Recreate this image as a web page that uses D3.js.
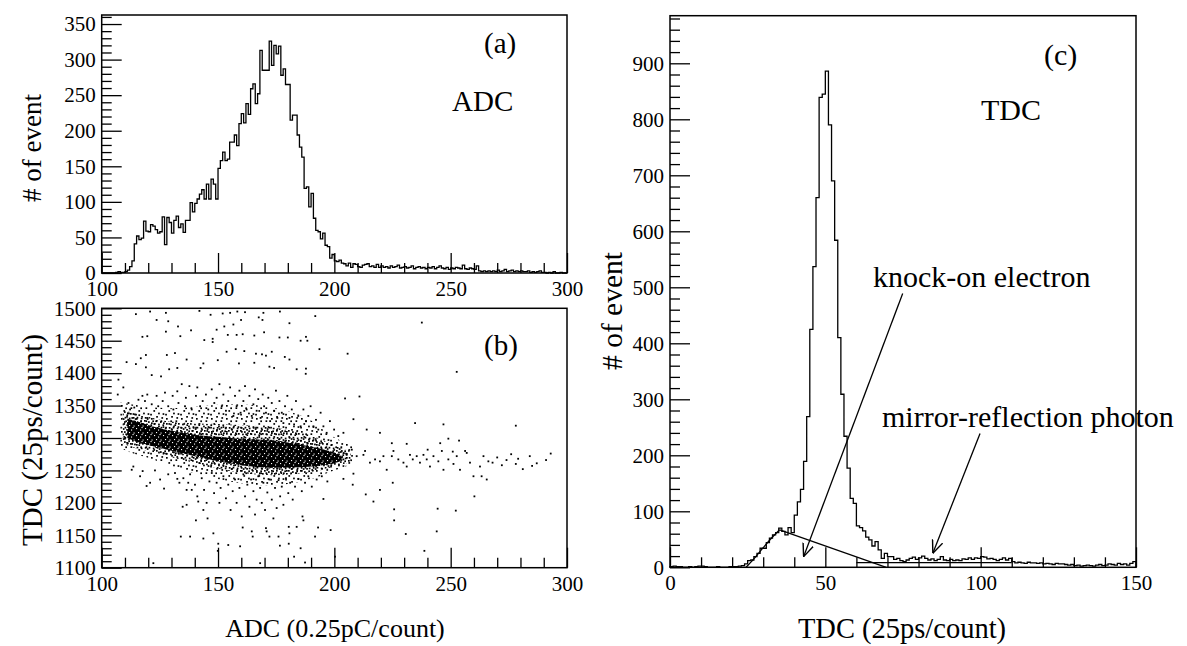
<!DOCTYPE html>
<html>
<head>
<meta charset="utf-8">
<script src="https://cdn.jsdelivr.net/npm/d3@7"></script>
<style>
  body { margin: 0; background: #fff; }
  svg text { font-family: "Liberation Serif", "Times New Roman", serif; fill: #000; }
  .axis text { font-size: 21px; }
  .axis line { stroke: #000; stroke-width: 1.3; }
  .note { font-size: 30px; }
  .note.left { font-size: 29px; }
</style>
</head>
<body>
<svg id="fig" width="1187" height="646"></svg>
<script>
// ---- data ----

// (a) ADC histogram, 1 count per bin, bins 100..299
var adcStart = 100;
var adcCounts = [
  0, 0, 0, 0, 0, 0, 1, 2, 1, 1,
  2, 4, 9, 17, 41, 52, 47, 49, 73, 59,
  58, 68, 66, 61, 56, 58, 79, 40, 78, 71,
  56, 74, 80, 64, 69, 57, 74, 74, 99, 86,
  98, 104, 111, 117, 104, 125, 104, 132, 125, 104,
  147, 158, 170, 158, 160, 184, 184, 194, 179, 210,
  224, 211, 238, 223, 259, 266, 238, 252, 313, 285,
  285, 285, 326, 292, 320, 308, 319, 278, 287, 265,
  265, 215, 222, 222, 194, 177, 163, 119, 121, 93,
  112, 77, 60, 58, 48, 56, 39, 37, 21, 26,
  17, 16, 18, 14, 13, 10, 14, 8, 13, 12,
  9, 8, 11, 12, 13, 9, 10, 8, 12, 8,
  10, 8, 9, 7, 10, 8, 9, 11, 7, 8,
  9, 7, 8, 10, 6, 8, 9, 7, 8, 6,
  8, 7, 9, 6, 8, 10, 7, 6, 8, 5,
  7, 6, 8, 7, 6, 11, 6, 5, 7, 6,
  5, 10, 3, 2, 3, 2, 3, 2, 3, 2,
  4, 2, 3, 5, 2, 3, 4, 2, 3, 2,
  3, 2, 2, 3, 1, 2, 1, 2, 3, 1,
  1, 0, 1, 0, 2, 0, 0, 1, 0, 0
];

// (c) TDC histogram, bins 0..149
var tdcStart = 0;
var tdcCounts = [
  1, 2, 1, 1, 0, 0, 1, 0, 1, 2,
  2, 1, 0, 0, 0, 1, 0, 0, 0, 1,
  1, 1, 2, 3, 6, 12, 13, 19, 25, 34,
  34, 44, 52, 58, 62, 70, 64, 58, 71, 62,
  93, 117, 139, 189, 269, 425, 537, 660, 839, 845,
  886, 790, 690, 584, 410, 309, 234, 177, 123, 114,
  74, 71, 65, 54, 49, 38, 46, 31, 16, 25,
  19, 19, 14, 16, 12, 10, 13, 16, 18, 14,
  17, 20, 16, 13, 15, 12, 14, 19, 13, 12,
  14, 12, 13, 12, 15, 14, 17, 14, 17, 16,
  19, 18, 15, 16, 14, 12, 14, 17, 13, 16,
  10, 8, 9, 8, 7, 9, 8, 8, 7, 8,
  6, 7, 6, 5, 7, 6, 6, 5, 4, 5,
  3, 4, 2, 3, 4, 3, 2, 4, 5, 3,
  4, 6, 5, 4, 7, 5, 6, 4, 7, 10
];

// (c) fitted knock-on shape and flat background, [TDC, count]
var knockFit = [[24.5, 0], [27, 15], [30, 35], [33, 54], [35.3, 67], [69.6, 0]];
var flatFit = [[60, 8.5], [110, 8.5]];
// arrows [from, to] in [TDC, count]
var knockArrow = [[74.9, 489], [43, 19]];
var mirrorArrow = [[99.8, 239], [84.6, 25]];

// (b) ADC-TDC band, three density levels: [ADC, TDC low, TDC high]
var bandCore = [[111,1300,1330],[115,1294,1326],[120,1289,1320],[125,1285,1315],[130,1280,1311],
  [135,1276,1308],[140,1272,1305],[145,1268,1303],[150,1264,1302],[155,1261,1300],[160,1258,1299],
  [165,1256,1298],[170,1254,1297],[175,1254,1296],[180,1254,1293],[185,1255,1290],[190,1256,1287],
  [195,1258,1283],[200,1261,1278],[203,1265,1273]];
var bandInner = [[109,1292,1342],[113,1285,1340],[120,1280,1333],[125,1276,1328],[130,1270,1325],
  [140,1262,1322],[150,1252,1322],[160,1246,1320],[170,1242,1318],[180,1243,1314],[190,1247,1305],
  [195,1251,1297],[200,1256,1288],[207,1263,1280]];
var bandOuter = [[108,1285,1355],[113,1276,1352],[120,1270,1348],[130,1256,1345],[140,1245,1348],
  [150,1236,1352],[160,1230,1352],[170,1226,1350],[180,1228,1342],[190,1236,1330],[195,1243,1312],
  [200,1250,1300],[208,1260,1288]];

// (b) single events outside the band, [ADC, TDC]
var scatterHigh = [[114.7,1491],[120.8,1495],[127.6,1493],[123.6,1482],[128.6,1480],[132.8,1472],[138.4,1466],
  [127.6,1464],[133.8,1457],[117.5,1456],[119.6,1457],[142,1496],[146.8,1490],[152,1492],[155.2,1493],
  [158.3,1495],[161.6,1494],[169.5,1493],[176.6,1495],[167.5,1486],[159.9,1482],[169.1,1482],[180.7,1477],
  [191.8,1488],[149.4,1467],[152.7,1472],[156.6,1475],[154.2,1459],[158,1459],[160.6,1460],[165.6,1458],
  [169.8,1463],[176.4,1455],[180,1455],[185.5,1450],[187.8,1456],[188.4,1450],[144.1,1451],[147.7,1453],
  [147.7,1448],[157.6,1437],[161.3,1434],[153.7,1433],[166.3,1430],[168.9,1429],[170.6,1427],[173.1,1433],
  [178.7,1425],[180.7,1421],[193.6,1437],[205.7,1430],[237.6,1478],[252.6,1402],[131.5,1431],[128,1428],
  [136.5,1421],[119,1428],[114.7,1414],[110.7,1417],[116.8,1423],[132.5,1408],[119,1409],[121.5,1397],
  [125.5,1395],[129,1406],[143.7,1415],[142.5,1408],[149.9,1420],[159,1415],[165.6,1416],[172.1,1410],
  [174.1,1408],[183.8,1406],[187.8,1407],[187.7,1399],[107.2,1390],[106.9,1367],[109.3,1378],[110,1299]];
var scatterMid = [[111.5,1354],[112.2,1344],[114,1347],[115.8,1359],[117.5,1365],[118.6,1357],[119.6,1367],
  [121.5,1352],[123.6,1365],[124.3,1349],[126.2,1357],[127.2,1370],[128.6,1349],[130.5,1365],[130.8,1344],
  [132.5,1372],[133,1354],[134.4,1383],[135.8,1349],[136.2,1362],[137.7,1380],[138.7,1344],[140.5,1365],
  [141.1,1378],[142.3,1349],[143.4,1357],[144.8,1367],[145.8,1344],[147.3,1375],[148.4,1354],[149.4,1362],
  [150.6,1383],[151.6,1349],[152.3,1367],[153.4,1342],[154.4,1357],[155.2,1378],[156.6,1334],[157.3,1365],
  [158,1349],[159.2,1373],[159.7,1339],[160.9,1357],[161.6,1380],[162.3,1344],[163.5,1365],[164.5,1334],
  [165.2,1352],[165.9,1375],[166.6,1342],[167.3,1360],[168.3,1331],[169.2,1367],[169.8,1349],[170.6,1339],
  [171.6,1362],[172.4,1326],[173.1,1354],[174.1,1342],[174.9,1373],[175.5,1331],[176.4,1357],[177.4,1339],
  [178.1,1323],[178.8,1349],[179.8,1365],[180.7,1331],[181.7,1344],[182.7,1321],[183.5,1357],[184.5,1334],
  [185.5,1318],[186.7,1344],[187.8,1326],[188.8,1334],[189.8,1349],[191,1318],[192.1,1328],[193.1,1313],
  [194.1,1339],[195.3,1318],[196.7,1308],[198.1,1326],[199.9,1313],[201.7,1303],[203.9,1308],
  [131.5,1246],[133.4,1231],[135.1,1238],[136.5,1220],[138,1244],[140.1,1228],[141.1,1210],[143,1238],
  [144,1220],[145.1,1200],[146.3,1233],[147.3,1246],[148.3,1215],[149.4,1231],[150.6,1200],[151.1,1223],
  [152.3,1241],[153.4,1207],[154.4,1228],[155.4,1189],[156.3,1218],[157.3,1236],[158,1200],[159.2,1223],
  [160.2,1179],[160.9,1244],[161.6,1210],[162.6,1228],[163.5,1194],[164.2,1236],[165.2,1218],[165.9,1182],
  [166.6,1205],[167.3,1241],[168.1,1223],[168.8,1200],[169.5,1231],[170.2,1189],[171.2,1216],[172.1,1236],
  [173.1,1205],[173.8,1176],[174.5,1223],[175.2,1192],[176,1235],[176.7,1210],[177.4,1225],[178.1,1197],
  [179.2,1238],[180.2,1215],[181,1231],[182.1,1205],[183.1,1225],[184.5,1237],[186,1218],[187.4,1231],
  [188.8,1241],[190.3,1225],[192.4,1236],[194.6,1241],[197,1233],[116.5,1241],[120.8,1231],[125.1,1236],
  [128.6,1244],[112.9,1251],[203.9,1237],[208.2,1245]];
var scatterLow = [[134.8,1194],[138,1148],[134,1148],[143.7,1145],[148,1153],[150.1,1137],[149.9,1126],
  [154.4,1135],[159.5,1133],[160.6,1162],[164.5,1156],[164.9,1148],[170.6,1161],[170.9,1156],[172.1,1148],
  [176,1148],[176.6,1134],[180.4,1137],[180.4,1163],[182.7,1117],[185.5,1130],[187.4,1108],[168.1,1107],
  [122.2,1107],[180.7,1153],[186.3,1179],[186.7,1173],[183.8,1163],[193,1162],[198.4,1158],[200.3,1117],
  [195.3,1206],[191.7,1148],[207.9,1228],[213.5,1213],[216.8,1202],[219.6,1220],[225.1,1231],[225.7,1190],
  [225.7,1173],[230.7,1152],[238.7,1126],[244.4,1191],[244,1156],[252.2,1188],[260.2,1210],[265.5,1236],
  [263.3,1241],[145.5,1176],[140.5,1173],[141.5,1202],[143.7,1189],[137.2,1231],[136.5,1197],[138.7,1220],
  [132.5,1237],[126.8,1222],[119.3,1226],[122.9,1250],[113.6,1256],[117.6,1249]];
var scatterTail = [[201,1272],[203.2,1280],[203.9,1267],[205.3,1274],[207.5,1282],[209.6,1272],[212.5,1274],
  [213.2,1280],[215.3,1262],[217.5,1267],[219.6,1264],[221.1,1272],[222.5,1251],[224.7,1272],[225.4,1280],
  [227.5,1267],[229.7,1262],[231.1,1256],[232.5,1274],[233.7,1267],[235.4,1272],[236.8,1262],[238.3,1274],
  [239.7,1267],[241.1,1256],[242.6,1272],[244.7,1264],[246.2,1280],[246.9,1251],[249,1267],[251.2,1260],
  [252.6,1272],[254,1251],[256.2,1280],[258.3,1262],[259.8,1241],[262.6,1256],[264.1,1272],[266.2,1264],
  [213.9,1313],[219.6,1308],[224.7,1292],[231.1,1291],[246.9,1321],[245.5,1292],[249,1299],[253.6,1296],
  [234.7,1323],[208.2,1329],[204.6,1361],[210.8,1364],[240.1,1282],[250.9,1279],[256.9,1277],
  [268,1262],[270,1270],[272,1258],[274,1266],[276,1275],[278,1260],[279,1268],[281,1252],[284,1272],
  [285,1257],[287,1261],[291,1266],[293,1276],[278,1319]];

var adcMajor = [100, 150, 200, 250, 300];
var tdcMajor = [0, 50, 100, 150];
var countMajorA = [0, 50, 100, 150, 200, 250, 300, 350];
var tdcValMajor = [1100, 1150, 1200, 1250, 1300, 1350, 1400, 1450, 1500];
var countMajorC = [0, 100, 200, 300, 400, 500, 600, 700, 800, 900];

// ---- scales (page pixels) ----
var xA = d3.scaleLinear().domain([100, 300]).range([101.7, 567]);
var yA = d3.scaleLinear().domain([0, 362.7]).range([273, 15]);
var yB = d3.scaleLinear().domain([1100, 1500]).range([567.7, 308.3]);
var xC = d3.scaleLinear().domain([0, 150]).range([670, 1136]);
var yC = d3.scaleLinear().domain([0, 985]).range([567.3, 15.7]);

var serif = '"Liberation Serif", "Times New Roman", serif';
var svg = d3.select('#fig');

var defs = svg.append('defs');
function dotPattern(id, w, h, bg, fg, size, spots) {
  var p = defs.append('pattern').attr('id', id)
    .attr('patternUnits', 'userSpaceOnUse').attr('width', w).attr('height', h);
  if (bg) p.append('rect').attr('width', w).attr('height', h).attr('fill', bg);
  spots.forEach(function (s) {
    p.append('rect').attr('x', s[0]).attr('y', s[1]).attr('width', size).attr('height', size).attr('fill', fg);
  });
}
dotPattern('core', 9, 7, '#000', '#fff', 1.1, [[1, 1], [5, 2.5], [3, 5], [7.5, 5.5], [6.5, 0]]);
dotPattern('inner', 12, 10, null, '#000', 1.7,
  [[0, 0], [4, 1.2], [8.3, 0.4], [2.1, 3.6], [6.4, 4.3], [10, 3], [0.8, 7], [4.6, 6.8], [8.8, 7.6], [2.8, 8.2], [7, 2.4]]);
dotPattern('outer', 15, 13, null, '#000', 1.7,
  [[1, 2], [6.2, 0], [10.5, 4.3], [3.4, 7.1], [8.1, 9.6], [12.6, 10.2], [5.3, 4.4], [0.2, 10.8], [11.4, 1.1]]);
defs.append('clipPath').attr('id', 'clipB').append('rect')
  .attr('x', xA.range()[0]).attr('y', yB.range()[1])
  .attr('width', xA.range()[1] - xA.range()[0]).attr('height', yB.range()[0] - yB.range()[1]);
defs.append('marker').attr('id', 'arrow')
  .attr('viewBox', '0 0 12 12').attr('refX', 12).attr('refY', 6)
  .attr('markerWidth', 13).attr('markerHeight', 13)
  .attr('markerUnits', 'userSpaceOnUse').attr('orient', 'auto')
  .append('path').attr('d', 'M0,1 L12,6 L0,11')
  .attr('fill', 'none').attr('stroke', '#000').attr('stroke-width', 1.3);

function range(a, b, step) { return d3.range(a, b + step / 2, step); }

function axes(x, y, xMajor, xStep, yMajor, yStep) {
  var bottom = y.range()[0], left = x.range()[0];
  var xMinor = range(x.domain()[0], x.domain()[1], xStep).filter(function (v) { return xMajor.indexOf(v) < 0; });
  var yMinor = range(y.domain()[0], y.domain()[1], yStep).filter(function (v) { return yMajor.indexOf(v) < 0; });
  var g = svg.append('g');
  g.append('g').attr('class', 'axis').attr('transform', 'translate(0,' + bottom + ')')
    .call(d3.axisBottom(x).tickValues(xMinor).tickSize(-10).tickFormat(''));
  g.append('g').attr('class', 'axis').attr('transform', 'translate(0,' + bottom + ')')
    .call(d3.axisBottom(x).tickValues(xMajor).tickSize(-20).tickPadding(8).tickFormat(d3.format('d')));
  g.append('g').attr('class', 'axis').attr('transform', 'translate(' + left + ',0)')
    .call(d3.axisLeft(y).tickValues(yMinor).tickSize(-10).tickFormat(''));
  g.append('g').attr('class', 'axis').attr('transform', 'translate(' + left + ',0)')
    .call(d3.axisLeft(y).tickValues(yMajor).tickSize(-20).tickPadding(6).tickFormat(d3.format('d')));
  g.selectAll('.domain').remove();
  g.selectAll('.axis').attr('font-family', null).attr('font-size', null);
  g.selectAll('text').attr('font-family', serif);
  svg.append('rect')
    .attr('x', left).attr('y', y.range()[1])
    .attr('width', x.range()[1] - left).attr('height', bottom - y.range()[1])
    .attr('fill', 'none').attr('stroke', '#000').attr('stroke-width', 1.5);
}

function histogram(x, y, start, counts) {
  var pts = [[start, 0]].concat(counts.map(function (c, i) { return [start + i, c]; }));
  pts.push([start + counts.length, counts[counts.length - 1]]);
  pts.push([start + counts.length, 0]);
  var line = d3.line().x(function (d) { return x(d[0]); }).y(function (d) { return y(d[1]); })
    .curve(d3.curveStepAfter);
  svg.append('path').attr('d', line(pts))
    .attr('fill', 'none').attr('stroke', '#000').attr('stroke-width', 1.3);
}

// ---- (a) ADC histogram ----
histogram(xA, yA, adcStart, adcCounts);
axes(xA, yA, adcMajor, 10, countMajorA, 10);

// ---- (b) TDC vs ADC ----
var gB = svg.append('g').attr('clip-path', 'url(#clipB)');
var band = d3.area().x(function (d) { return xA(d[0]); })
  .y0(function (d) { return yB(d[1]); }).y1(function (d) { return yB(d[2]); })
  .curve(d3.curveBasis);
gB.append('path').attr('d', band(bandOuter)).attr('fill', 'url(#outer)');
gB.append('path').attr('d', band(bandInner)).attr('fill', 'url(#inner)');
gB.append('path').attr('d', band(bandCore)).attr('fill', 'url(#core)');
gB.selectAll('rect.pt')
  .data(scatterHigh.concat(scatterMid, scatterLow, scatterTail))
  .enter().append('rect').attr('class', 'pt')
  .attr('x', function (d) { return xA(d[0]) - 0.9; })
  .attr('y', function (d) { return yB(d[1]) - 0.9; })
  .attr('width', 1.8).attr('height', 1.8).attr('fill', '#000');
axes(xA, yB, adcMajor, 10, tdcValMajor, 10);

// ---- (c) TDC histogram ----
histogram(xC, yC, tdcStart, tdcCounts);
var fitLine = d3.line().x(function (d) { return xC(d[0]); }).y(function (d) { return yC(d[1]); });
svg.append('path').attr('d', fitLine.curve(d3.curveMonotoneX)(knockFit.slice(0, 5)))
  .attr('fill', 'none').attr('stroke', '#000').attr('stroke-width', 1.3);
fitLine.curve(d3.curveLinear);
svg.append('path').attr('d', fitLine(knockFit.slice(4)))
  .attr('fill', 'none').attr('stroke', '#000').attr('stroke-width', 1.3);
svg.append('path').attr('d', fitLine(flatFit))
  .attr('fill', 'none').attr('stroke', '#000').attr('stroke-width', 1.3);
[knockArrow, mirrorArrow].forEach(function (a) {
  svg.append('line')
    .attr('x1', xC(a[0][0])).attr('y1', yC(a[0][1]))
    .attr('x2', xC(a[1][0])).attr('y2', yC(a[1][1]))
    .attr('stroke', '#000').attr('stroke-width', 1.3)
    .attr('marker-end', 'url(#arrow)');
});
axes(xC, yC, tdcMajor, 10, countMajorC, 20);

// ---- text ----
function note(x, y, s, cls) {
  svg.append('text').attr('class', 'note ' + (cls || '')).attr('x', x).attr('y', y).text(s);
}
note(484, 53, '(a)', 'left');
note(452, 111, 'ADC', 'left');
note(484, 355, '(b)', 'left');
note(1044, 65, '(c)');
note(981, 120, 'TDC');
note(873, 287, 'knock-on electron');
note(882, 427, 'mirror-reflection photon');

function vtitle(x, y, size, s) {
  svg.append('text').attr('font-size', size)
    .attr('transform', 'translate(' + x + ',' + y + ') rotate(-90)')
    .attr('text-anchor', 'middle').text(s);
}
function htitle(x, y, size, s) {
  svg.append('text').attr('font-size', size).attr('x', x).attr('y', y)
    .attr('text-anchor', 'middle').text(s);
}
vtitle(41, 148, 27, '# of event');
vtitle(42, 440, 29, 'TDC (25ps/count)');
vtitle(622, 311, 29.5, '# of event');
htitle(335, 637, 26, 'ADC (0.25pC/count)');
htitle(902, 638, 28.5, 'TDC (25ps/count)');
</script>
</body>
</html>
